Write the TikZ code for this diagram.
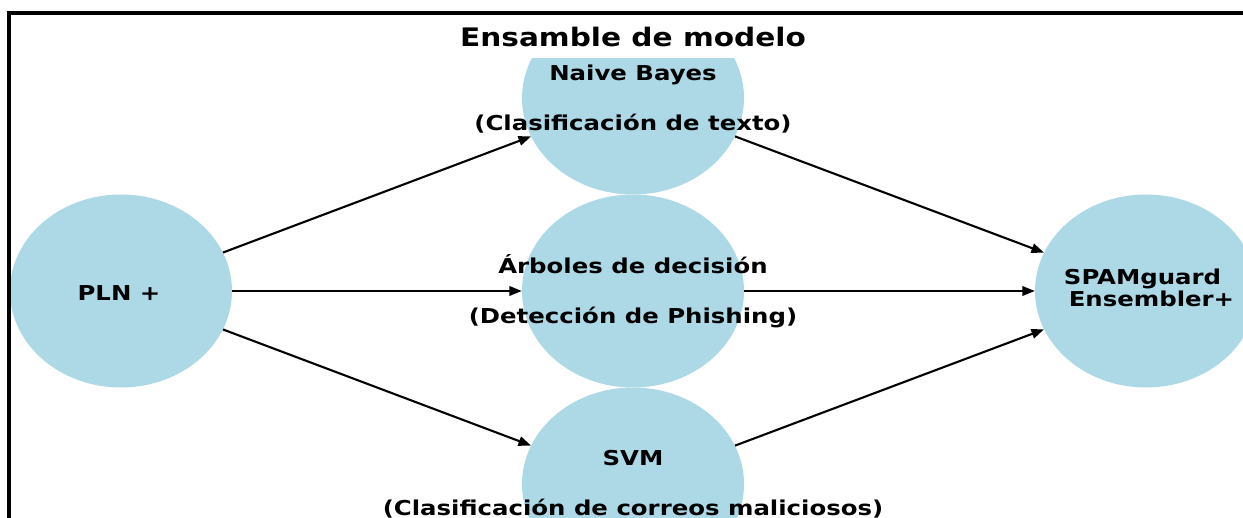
\documentclass[tikz,border=0pt]{standalone}
\usepackage{fontspec}
\setmainfont{DejaVu Sans}
\usetikzlibrary{shapes.geometric,arrows.meta}
\definecolor{nodeblue}{RGB}{173,216,230}
\tikzset{
  model/.style={ellipse, fill=nodeblue, minimum width=222pt, minimum height=193pt, inner sep=0pt},
  lbl/.style={inner sep=0pt, font=\fontsize{20.5}{25}\selectfont\bfseries},
  ttl/.style={inner sep=0pt, anchor=base, font=\fontsize{25.5}{30}\selectfont\bfseries},
  conn/.style={line width=2.1pt, -{Triangle[length=12.5pt,width=9.5pt]}},
  frame/.style={line width=3.2pt},
}
\newcommand{\widelbl}[1]{\scalebox{1.19}[1]{#1}}
\newcommand{\widettl}[1]{\scalebox{1.16}[1]{#1}}
\begin{document}
\begin{tikzpicture}[x=1pt,y=-1pt]
\clip (0,0) rectangle (1243,518);
\fill[white] (0,0) rectangle (1243,518);
\begin{scope}
  \clip (0,59) rectangle (1243,518);
  \node[model] (pln) at (121,291) {};
  \node[model] (nb) at (633,98) {};
  \node[model] (ad) at (633,291) {};
  \node[model] (svm) at (633,484) {};
  \node[model] (spam) at (1146,291) {};
\end{scope}
\draw[frame] (9,13) rectangle (1300,580);
\draw[conn] (pln) -- (nb);
\draw[conn] (pln) -- (ad);
\draw[conn] (pln) -- (svm);
\draw[conn] (nb) -- (spam);
\draw[conn] (ad) -- (spam);
\draw[conn] (svm) -- (spam);
\node[ttl] (title) at (633,47) {\widettl{Ensamble de modelo}};
\node[lbl] (tpln) at (119,293) {\widelbl{PLN +}};
\node[lbl] (tnb) at (633,101) {\widelbl{\begin{tabular}{@{}c@{}}Naive Bayes\\ \\ (Clasificación de texto)\end{tabular}}};
\node[lbl] (tad) at (633,293) {\widelbl{\begin{tabular}{@{}c@{}}Árboles de decisión\\ \\ (Detección de Phishing)\end{tabular}}};
\node[lbl] (tsvm) at (633,485.5) {\widelbl{\begin{tabular}{@{}c@{}}SVM\\ \\ (Clasificación de correos maliciosos)\end{tabular}}};
\node[lbl] (tspam) at (1147,291) {\widelbl{\begin{tabular}{@{}c@{}}SPAMguard\hspace*{7.5pt}\\[-3pt]\hspace*{7.5pt}Ensembler+\end{tabular}}};
\end{tikzpicture}
\end{document}
